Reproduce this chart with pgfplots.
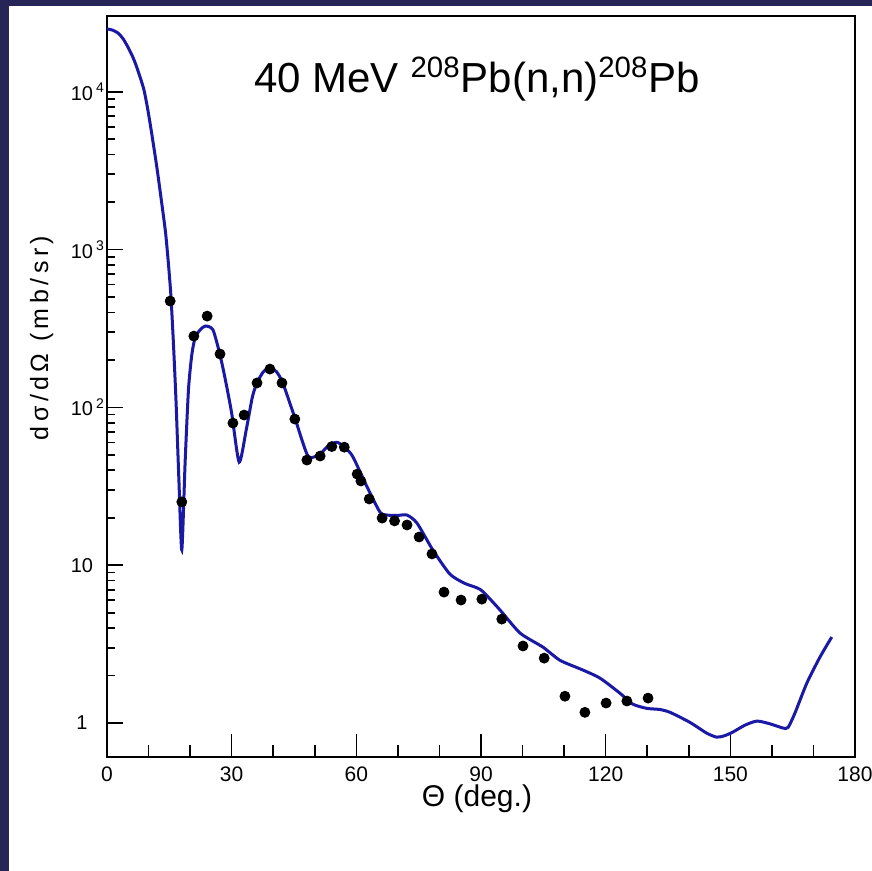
\documentclass[border=0pt]{standalone}
\usepackage{fontspec}
\setmainfont{Liberation Sans}
\usepackage{pgfplots}
\pgfplotsset{compat=1.18}
\definecolor{navybg}{RGB}{39,36,88}
\definecolor{curveblue}{RGB}{25,25,165}
\begin{document}
\begin{tikzpicture}
\path[use as bounding box] (0pt,0pt) rectangle (436pt,435.5pt);
\fill[navybg] (0pt,0pt) rectangle (436pt,435.5pt);
\fill[white] (4.5pt,0pt) rectangle (436pt,432.5pt);
\begin{axis}[
  at={(53.5pt,57pt)}, anchor=south west,
  scale only axis, width=374pt, height=370.5pt,
  xmin=0, xmax=180, ymode=log, ymin=0.61, ymax=30200,
  xtick={0,30,...,180}, minor x tick num=2,
  ytick={1,10,100,1000,10000},
  yticklabels={1,10,10\rlap{\kern1.5pt\textsuperscript{2}},10\rlap{\kern1.5pt\textsuperscript{3}},10\rlap{\kern1.5pt\textsuperscript{4}}},
  xtick pos=left, ytick pos=left, tick align=inside,
  axis line style={line width=0.9pt},
  xtick style={/pgfplots/major tick length=11.5pt,/pgfplots/minor tick length=6pt,line width=0.8pt,black},
  ytick style={/pgfplots/major tick length=8pt,/pgfplots/minor tick length=4pt,line width=0.8pt,black},
  /pgf/number format/assume math mode=true,
  xticklabel style={font=\fontsize{10.5}{12}\selectfont, anchor=center, yshift=-8.5pt},
  yticklabel style={font=\fontsize{10}{12}\selectfont, anchor=center, xshift=-12.5pt},
  clip=false,
]
\addplot[curveblue, line width=1.5pt, smooth, tension=0.4] coordinates {
(0,25000) (1.3,24600) (2.7,23500) (3.9,21600) (5.1,19050) (6.3,16400) (7.1,14450)
(8.0,12300) (8.9,10260) (9.8,7760) (10.75,5460) (12.0,3320) (13.07,2060) (14.1,1275)
(14.84,779) (15.4,500) (16.0,250) (16.6,111) (17.3,34.8)
(18.0,12.5) (18.8,45) (19.6,129) (20.4,215) (21.2,276) (22.4,310) (23.7,328) (25.5,310)
(27.2,215) (28.5,149) (30,92) (31.8,45) (33.5,72) (35,117) (36.1,143) (37.6,168)
(39.2,178) (40.8,168) (42.3,143) (45.2,86) (48.4,49) (51.3,51) (53.5,58) (55.5,60)
(57.5,55) (59.2,48.5) (62.6,31.3) (65.7,21.7) (67.4,20.8) (70,20.7) (72.2,20.8)
(74.6,18.5) (78.4,12.5) (82.5,8.8) (86,7.7) (89,7.2) (90.5,6.8) (94.6,5.2)
(99.4,3.72) (104.9,3.03) (109,2.5) (114.5,2.17) (118.6,1.93) (123.4,1.55)
(126.5,1.32) (129.9,1.24) (133,1.22) (135.5,1.17) (140.3,1.01) (144.3,0.864)
(146.7,0.815) (148.5,0.83) (150.6,0.877) (153.5,0.97) (156.4,1.03) (159.5,0.99)
(162.7,0.93) (163.9,0.94) (165.5,1.15) (168.4,1.79) (171.5,2.6) (174.4,3.51)
};
\addplot[only marks, mark=*, mark size=2.5pt, black] coordinates {
(15.2,472) (18.0,25.2) (20.9,283) (24.1,379) (27.2,218) (30.3,79.6) (33.0,89.5)
(36.1,143) (39.2,175) (42.1,143) (45.2,84.4) (48.1,46.4) (51.3,49.2) (54.1,56.5)
(57.1,56) (60.2,37.8) (61.1,34.2) (63.1,26.3) (66.2,19.9) (69.2,19.1) (72.2,18.0)
(75.1,15.1) (78.2,11.8) (81.1,6.76) (85.2,6.02) (90.2,6.1) (95.0,4.56) (100.1,3.08)
(105.2,2.58) (110.2,1.48) (115.0,1.17) (120.1,1.34) (125.1,1.38) (130.2,1.44)
};
\end{axis}
\node[anchor=base, font=\fontsize{21}{25}\selectfont] at (238.5pt,389pt)
  {40 MeV \textsuperscript{208}Pb(n,n)\textsuperscript{208}Pb};
\node[anchor=base, font=\fontsize{15}{18}\selectfont] at (238.5pt,32pt) {Θ (deg.)};
\node[anchor=base, rotate=90, font=\fontsize{12.5}{15}\selectfont\addfontfeatures{LetterSpace=18}] at (24pt,266.5pt) {dσ/dΩ (mb/sr)};
\end{tikzpicture}
\end{document}
